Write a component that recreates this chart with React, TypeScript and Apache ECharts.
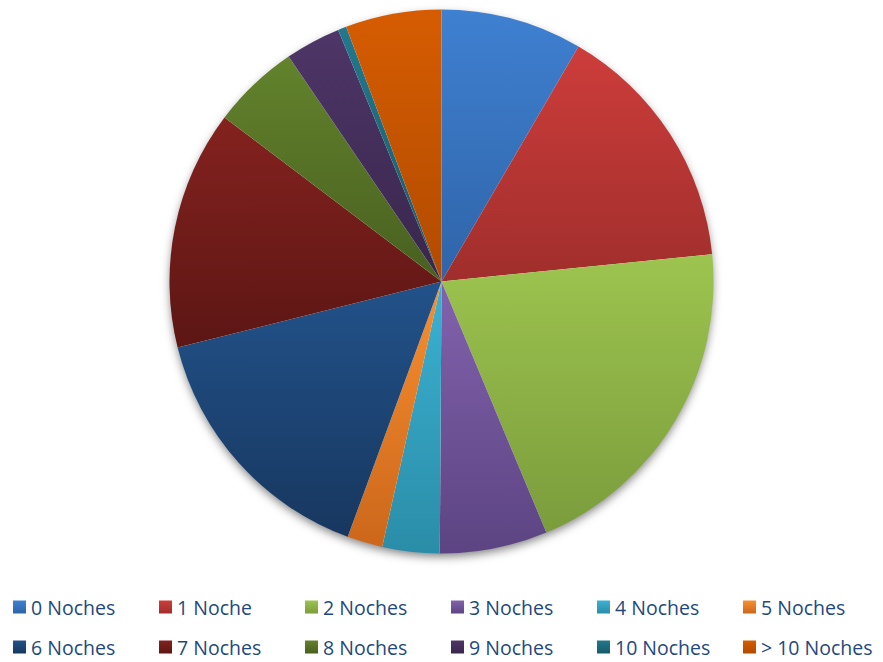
import React, { useEffect, useRef } from "react";
import * as echarts from "echarts";

const categories = [
  "0 Noches", "1 Noche", "2 Noches", "3 Noches", "4 Noches", "5 Noches",
  "6 Noches", "7 Noches", "8 Noches", "9 Noches", "10 Noches", "> 10 Noches",
];
const values = [8.4, 15.0, 20.3, 6.4, 3.4, 2.1, 15.5, 14.2, 5.2, 3.3, 0.5, 5.7];
const lightColors = [
  "#3f80d1", "#cd3d3b", "#9dc44f", "#8262ad", "#3cb1d3", "#f88f30",
  "#22528a", "#84221f", "#63832c", "#4e3668", "#22788d", "#d65c02",
];
const darkColors = [
  "#2f64a8", "#a02e2c", "#7b9c3c", "#5c4482", "#2a8da8", "#cc671b",
  "#17375f", "#5c1614", "#485f20", "#38264b", "#185a6a", "#b14b00",
];

export default function App() {
  const ref = useRef<HTMLDivElement>(null);
  useEffect(() => {
    if (!ref.current) return;
    const chart = echarts.init(ref.current, undefined, { renderer: "svg" });
    const data = categories.map((name, i) => ({
      name,
      value: values[i],
      itemStyle: {
        color: new echarts.graphic.LinearGradient(0, 0, 0, 1, [
          { offset: 0, color: lightColors[i] },
          { offset: 1, color: darkColors[i] },
        ]),
      },
    }));
    const legendCommon = {
      left: 13,
      orient: "horizontal" as const,
      padding: 0,
      itemGap: 10,
      itemWidth: 13,
      itemHeight: 13,
      selectedMode: false,
      icon: "rect",
      textStyle: {
        fontFamily: "Open Sans",
        fontSize: 19.5,
        color: "#1F497D",
        width: 118,
        lineHeight: 18,
      },
    };
    chart.setOption({
      animation: false,
      backgroundColor: "#ffffff",
      legend: [
        { ...legendCommon, top: 597, data: categories.slice(0, 6) },
        { ...legendCommon, top: 637, data: categories.slice(6) },
      ],
      series: [
        {
          type: "pie",
          z: 1,
          silent: true,
          center: [441.5, 281.5],
          radius: 271,
          label: { show: false },
          labelLine: { show: false },
          itemStyle: {
            color: "#ffffff",
            shadowBlur: 10,
            shadowOffsetY: 4,
            shadowColor: "rgba(0,0,0,0.5)",
          },
          data: [{ name: "_bg", value: 1 }],
        },
        {
          type: "pie",
          z: 2,
          center: [441.5, 281.5],
          radius: 272,
          startAngle: 90,
          clockwise: true,
          label: { show: false },
          labelLine: { show: false },
          itemStyle: { borderWidth: 0 },
          emphasis: { disabled: true },
          data,
        },
      ],
    });
    return () => chart.dispose();
  }, []);
  return (
    <div
      ref={ref}
      style={{ position: "fixed", left: 0, top: 0, width: 883, height: 662 }}
    />
  );
}
